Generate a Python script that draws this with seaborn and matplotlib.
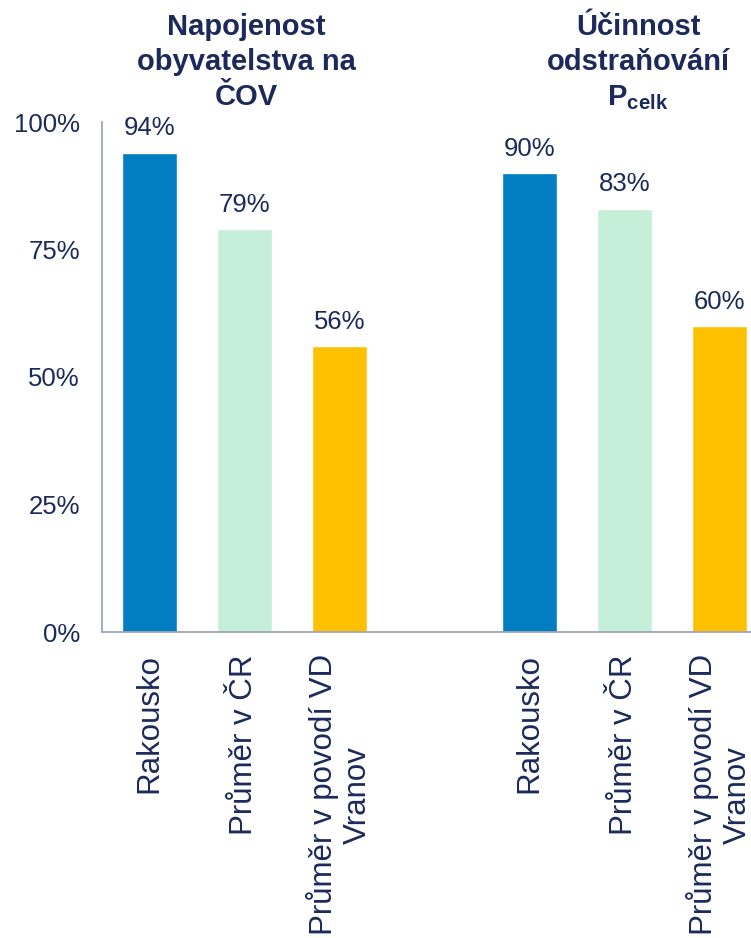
import matplotlib
matplotlib.use("Agg")
import matplotlib.pyplot as plt
import seaborn as sns
import pandas as pd
import numpy as np

# Data
slots = ["g1_a", "g1_b", "g1_c", "gap", "g2_a", "g2_b", "g2_c"]
keys = ["g1_a", "g1_b", "g1_c", "g2_a", "g2_b", "g2_c"]
series = ["Rakousko", "Průměr v ČR", "Průměr v povodí VD\nVranov",
          "Rakousko", "Průměr v ČR", "Průměr v povodí VD\nVranov"]
values = [0.94, 0.79, 0.56, 0.90, 0.83, 0.60]
tick_labels = ["Rakousko", "Průměr v ČR", "Průměr v povodí VD\nVranov", "",
               "Rakousko", "Průměr v ČR", "Průměr v povodí VD\nVranov"]
group_titles = ["Napojenost\nobyvatelstva na\nČOV",
                "Účinnost\nodstraňování\n$\\mathbf{P}_{\\mathbf{celk}}$"]
colors = {"Rakousko": "#007DC3", "Průměr v ČR": "#C6EFDA",
          "Průměr v povodí VD\nVranov": "#FFC000"}

sns.set_theme(style="white")
plt.rcParams["font.family"] = ["Liberation Sans", "DejaVu Sans"]
plt.rcParams["mathtext.fontset"] = "custom"
plt.rcParams["mathtext.rm"] = "Liberation Sans"
plt.rcParams["mathtext.bf"] = "Liberation Sans:bold"

navy = "#1B2A5A"
df = pd.DataFrame({"key": keys, "series": series, "value": values})

fig = plt.figure(figsize=(7.51, 9.38), dpi=100)
ax = fig.add_axes([102 / 751, 1 - 632 / 938, 665 / 751, 510 / 938])

sns.barplot(data=df, x="key", y="value", hue="series", order=slots,
            palette=colors, dodge=False, width=0.58, legend=False, ax=ax,
            saturation=1)

for c in ax.containers:
    labels = [f"{v*100:.0f}%" if not np.isnan(v) else "" for v in c.datavalues]
    ax.bar_label(c, labels=labels, padding=9, fontsize=18.5, color=navy)

ax.set_ylim(0, 1.0)
ax.set_xlim(-0.5, 6.5)
ax.set_yticks([0, 0.25, 0.5, 0.75, 1.0])
ax.set_yticklabels(["0%", "25%", "50%", "75%", "100%"])
ax.set_xticks(range(len(slots)))
ax.set_xticklabels(tick_labels, rotation=90, ha="center", va="top",
                   multialignment="center", fontsize=22.5, color=navy)
ax.tick_params(axis="y", length=0, pad=16, labelsize=18.5, labelcolor=navy)
ax.tick_params(axis="x", length=0, pad=16)
ax.set_xlabel("")
ax.set_ylabel("")
for s in ["top", "right"]:
    ax.spines[s].set_visible(False)
for s in ["left", "bottom"]:
    ax.spines[s].set_color("#A0A4B4")
    ax.spines[s].set_linewidth(1.3)

fig.text(246 / 751, 1 - 13 / 938, group_titles[0], ha="center", va="top",
         fontsize=21, fontweight="bold", color=navy, linespacing=1.32,
         multialignment="center")
fig.text(638 / 751, 1 - 13 / 938, group_titles[1], ha="center", va="top",
         fontsize=21, fontweight="bold", color=navy, linespacing=1.32,
         multialignment="center")

fig.savefig("out.png", dpi=100)
